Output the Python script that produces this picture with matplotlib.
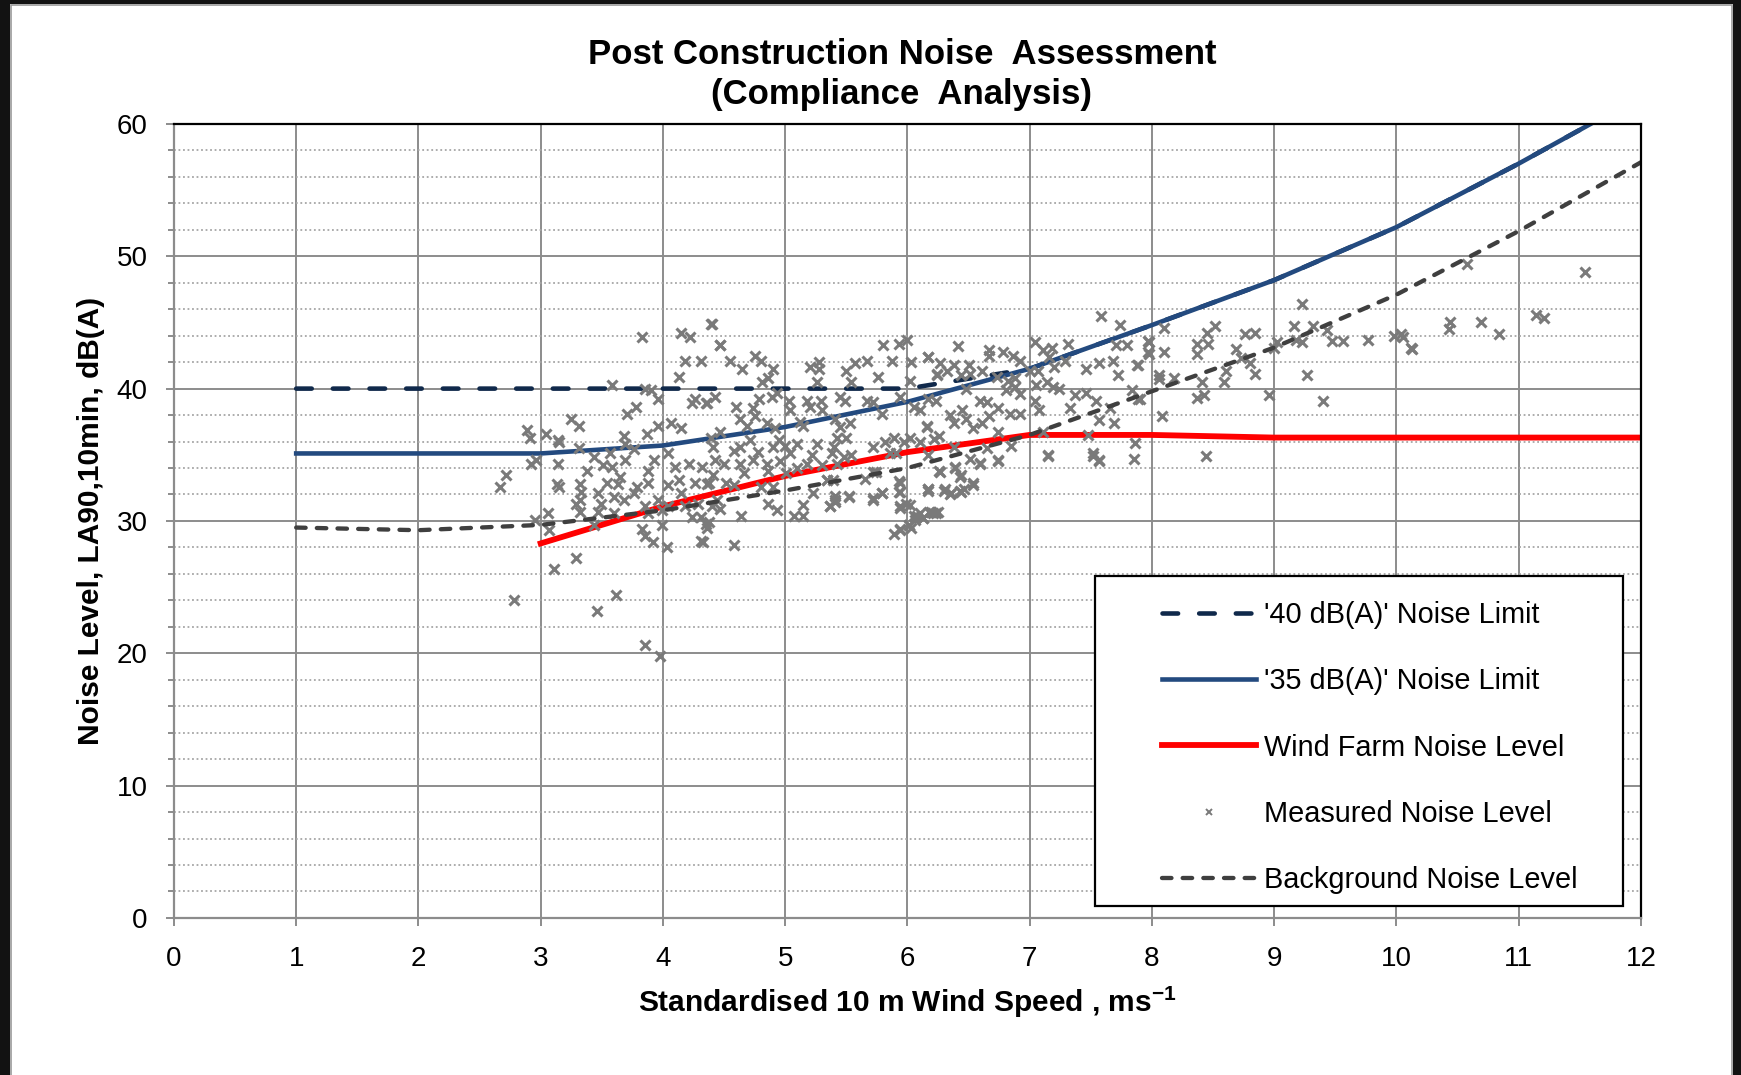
import matplotlib
matplotlib.use('Agg')
import matplotlib.pyplot as plt
from matplotlib import font_manager
from matplotlib.patches import Rectangle
from matplotlib.ticker import MultipleLocator

# 字型
names = {f.name for f in font_manager.fontManager.ttflist}
font = 'Liberation Sans' if 'Liberation Sans' in names else 'DejaVu Sans'
plt.rcParams['font.family'] = [font, 'DejaVu Sans']
plt.rcParams['mathtext.fontset'] = 'custom'
plt.rcParams['mathtext.rm'] = font
plt.rcParams['mathtext.bf'] = font + ':bold'

# 曲線資料 (m/s, dB(A))
speed = [1, 2, 3, 4, 5, 6, 7, 8, 9, 10, 11, 12]
limit_40 = [40.0, 40.0, 40.0, 40.0, 40.0, 40.0, 41.5, 44.8, 48.2, 52.2, 57.0, 62.1]
limit_35 = [35.1, 35.1, 35.1, 35.7, 37.1, 39.0, 41.5, 44.8, 48.2, 52.2, 57.0, 62.1]
background = [29.5, 29.3, 29.7, 30.8, 32.3, 34.0, 36.5, 39.8, 43.1, 47.1, 51.9, 57.1]

farm_speed = [3, 4, 5, 6, 7, 8, 9, 10, 11, 12]
farm_level = [28.3, 31.1, 33.4, 35.2, 36.5, 36.5, 36.3, 36.3, 36.3, 36.3]

# 量測點
meas_speed = [
    4.40, 3.83, 4.15, 4.22, 4.18, 4.31, 4.47, 4.13, 3.58, 3.85, 3.90, 3.96, 4.26, 4.24, 4.36, 3.78,
    3.71, 3.25, 3.31, 2.89, 2.91, 3.04, 3.87, 3.96, 4.07, 4.15, 3.68, 3.14, 3.15, 3.31, 3.69, 3.76,
    3.57, 3.44, 3.51, 3.58, 2.92, 2.96, 3.14, 3.38, 3.69, 3.88, 3.93, 4.04, 4.10, 4.21, 4.32, 4.43,
    2.72, 2.67, 3.13, 3.15, 3.32, 3.33, 3.54, 3.63, 3.65, 3.79, 3.88, 4.04, 4.13, 4.26, 4.38, 3.29,
    3.32, 3.47, 3.49, 3.60, 3.68, 3.76, 3.85, 3.96, 4.04, 4.15, 4.18, 4.29, 4.40, 3.32, 3.47, 3.60,
    3.88, 3.99, 4.24, 4.38, 3.06, 2.95, 3.07, 3.44, 3.83, 3.85, 3.99, 4.36, 3.92, 4.03, 4.33, 3.29,
    3.11, 3.62, 2.78, 3.46, 3.85, 3.98,
    4.39, 4.47, 4.55, 4.65, 4.75, 4.80, 4.86, 4.90, 4.81, 5.20, 5.28, 5.28, 5.26, 5.50, 5.57, 5.54,
    5.67, 5.76, 5.80, 5.87, 5.93, 6.00, 6.03, 6.17, 6.24, 6.02, 4.35, 4.43, 4.60, 4.74, 4.79, 4.89,
    4.93, 5.03, 5.04, 5.18, 5.20, 5.29, 5.30, 5.45, 5.49, 5.67, 5.72, 5.79, 5.94, 6.05, 6.16, 4.63,
    4.69, 4.75, 4.85, 4.92, 5.12, 5.15, 5.41, 5.45, 5.53, 5.42, 5.50, 5.82, 5.89, 5.97, 6.02, 5.72,
    4.39, 4.47, 4.41, 4.58, 4.63, 4.71, 4.78, 4.90, 4.95, 5.00, 5.04, 5.10, 5.26, 5.22, 5.40, 5.38,
    5.54, 5.48, 4.50, 4.63, 4.74, 4.85, 4.96, 5.18, 5.30, 5.42, 4.41, 4.52, 4.66, 4.86, 5.01, 5.10,
    4.36, 4.58, 4.80, 4.90, 5.34, 5.74, 5.94, 5.94, 5.23, 5.52, 5.72, 5.79, 6.17, 4.44, 4.47, 4.86,
    4.93, 4.64, 5.07, 5.15, 5.15, 5.37, 5.41, 5.94, 5.99, 6.05, 6.10, 6.19, 6.25, 4.31, 4.35, 4.31,
    4.58, 5.89, 5.94, 6.01, 6.06,
    7.58, 7.74, 6.41, 6.17, 6.27, 6.38, 6.50, 6.67, 6.67, 6.78, 6.86, 6.92, 7.04, 7.11, 7.18, 7.31,
    7.16, 7.29, 7.20, 7.46, 7.57, 7.68, 7.71, 7.80, 7.98, 7.98, 7.88, 7.72, 6.24, 6.32, 6.44, 6.51,
    6.61, 6.73, 6.82, 6.88, 7.00, 7.07, 6.81, 6.88, 6.92, 7.05, 7.14, 7.19, 7.24, 7.37, 7.46, 7.54,
    7.84, 7.90, 6.10, 6.17, 6.23, 6.48, 6.45, 6.59, 6.65, 6.74, 6.84, 6.92, 7.04, 7.08, 7.33, 6.35,
    6.38, 6.48, 6.61, 6.67, 6.54, 6.16, 6.74, 7.11, 7.57, 7.69, 7.66, 7.48, 6.22, 6.26, 6.10, 6.38,
    6.65, 6.85, 7.86, 7.15, 7.52, 7.57, 7.85, 6.17, 6.51, 6.59, 6.74, 6.27, 6.39, 6.43, 6.17, 6.30,
    6.35, 6.44, 6.54, 6.13, 6.21,
    9.23, 8.10, 8.52, 8.45, 8.37, 8.46, 8.37, 7.97, 7.97, 8.10, 8.69, 8.76, 8.84, 9.16, 9.32, 9.18,
    9.23, 9.43, 9.47, 9.56, 9.02, 9.00, 9.77, 9.98, 10.05, 10.13, 7.89, 8.73, 8.80, 8.84, 8.61, 8.59,
    8.41, 8.18, 8.06, 8.06, 9.27, 8.37, 8.43, 8.96, 9.40, 7.89, 8.08, 8.44,
    10.58, 11.54, 11.14, 11.21, 10.44, 10.43, 10.69, 10.84, 10.04, 10.12,
    5.94, 6.01, 6.03, 6.08, 6.13, 6.18, 6.23, 5.94, 6.02, 5.93, 5.93, 5.37, 5.41, 5.41, 5.52, 5.72,
    5.79, 6.17, 6.31, 6.36, 6.43, 6.46, 6.54, 6.26, 6.39, 6.44, 6.59, 6.74, 7.15, 7.52, 7.57, 5.34,
    5.39, 5.65, 5.72, 5.86, 5.91,
]
meas_level = [
    44.9, 43.9, 44.2, 43.9, 42.1, 42.1, 43.3, 40.9, 40.3, 40.0, 39.9, 39.2, 39.2, 38.9, 38.9, 38.6,
    38.1, 37.7, 37.2, 36.9, 36.3, 36.6, 36.6, 37.2, 37.4, 37.0, 36.4, 36.1, 36.0, 35.5, 35.8, 35.4,
    35.1, 34.8, 34.2, 34.1, 34.3, 34.6, 34.3, 33.8, 34.6, 33.8, 34.6, 35.1, 34.1, 34.3, 34.1, 34.6,
    33.5, 32.6, 32.8, 32.6, 32.8, 32.2, 32.9, 32.8, 33.3, 32.6, 32.9, 32.7, 33.1, 32.9, 32.9, 31.3,
    31.6, 32.1, 31.3, 31.8, 31.6, 32.1, 31.1, 31.6, 31.1, 32.1, 31.1, 31.3, 31.1, 30.7, 30.7, 30.6,
    30.6, 30.8, 30.3, 29.9, 30.6, 30.1, 29.3, 29.7, 29.4, 28.9, 29.7, 29.5, 28.4, 28.0, 28.4, 27.2,
    26.4, 24.4, 24.0, 23.2, 20.6, 19.8,
    44.9, 43.3, 42.1, 41.5, 42.5, 42.1, 40.8, 41.5, 40.5, 41.6, 42.0, 41.5, 40.5, 41.3, 41.9, 40.5,
    42.1, 40.9, 43.3, 42.1, 43.4, 43.7, 42.0, 42.4, 41.1, 40.6, 38.9, 39.4, 38.6, 38.5, 39.2, 39.4,
    39.7, 39.1, 38.4, 39.1, 38.6, 39.1, 38.4, 39.4, 39.1, 39.1, 39.0, 38.1, 39.4, 38.6, 37.2, 37.7,
    37.2, 37.9, 37.4, 37.0, 37.5, 37.2, 37.7, 37.1, 37.4, 36.3, 36.3, 36.0, 36.3, 36.0, 36.3, 35.6,
    36.3, 36.7, 35.6, 35.3, 35.6, 36.1, 35.2, 35.6, 36.1, 35.7, 35.1, 35.8, 35.8, 35.0, 35.6, 35.1,
    35.0, 34.8, 34.3, 34.3, 34.6, 34.3, 34.5, 34.3, 34.2, 34.3, 33.5, 32.9, 33.6, 33.8, 33.6, 34.0,
    32.8, 32.7, 32.6, 32.6, 33.1, 33.7, 32.9, 32.2, 32.1, 31.8, 31.7, 32.1, 32.4, 31.6, 30.9, 31.3,
    30.8, 30.4, 30.4, 31.2, 30.4, 31.1, 31.6, 31.1, 31.3, 30.4, 30.6, 30.7, 30.7, 30.3, 29.8, 28.5,
    28.2, 29.0, 29.3, 29.7, 30.1,
    45.5, 44.8, 43.2, 42.4, 41.9, 41.8, 41.8, 42.9, 42.5, 42.8, 42.5, 42.1, 43.5, 42.9, 43.1, 43.4,
    42.4, 42.1, 41.6, 41.5, 41.9, 42.1, 43.3, 43.3, 43.5, 42.6, 41.8, 41.0, 41.0, 41.3, 41.0, 41.1,
    41.3, 40.9, 40.6, 40.8, 41.3, 41.3, 39.9, 40.1, 39.6, 40.3, 40.5, 40.1, 40.0, 39.5, 39.7, 39.1,
    39.9, 39.2, 38.4, 39.2, 39.1, 40.0, 38.4, 39.1, 39.0, 38.5, 38.1, 38.1, 39.1, 38.4, 38.5, 38.0,
    37.4, 37.7, 37.4, 37.9, 37.0, 37.1, 36.7, 36.7, 37.6, 37.4, 38.5, 36.5, 36.2, 36.4, 36.0, 35.6,
    35.5, 35.7, 35.9, 34.9, 34.9, 34.5, 34.7, 35.0, 34.7, 34.3, 34.5, 33.7, 34.0, 33.3, 32.3, 32.3,
    32.0, 32.2, 32.7, 30.2, 30.6,
    46.4, 44.6, 44.7, 44.2, 43.4, 43.4, 42.6, 43.6, 42.8, 42.8, 43.0, 44.1, 44.2, 44.7, 44.7, 43.7,
    43.5, 44.4, 43.6, 43.6, 43.5, 43.1, 43.7, 44.0, 43.9, 43.0, 41.8, 42.3, 41.9, 41.1, 41.3, 40.5,
    40.5, 40.8, 41.0, 40.7, 41.0, 39.3, 39.5, 39.5, 39.1, 39.2, 37.9, 34.9,
    49.4, 48.8, 45.6, 45.3, 45.0, 44.5, 45.0, 44.1, 44.1, 43.1,
    29.4, 29.7, 29.5, 30.4, 30.2, 30.7, 30.6, 31.0, 31.2, 32.2, 33.0, 31.1, 31.4, 31.9, 31.9, 31.6,
    32.1, 32.4, 32.4, 32.1, 32.3, 32.4, 32.9, 33.8, 34.1, 33.5, 34.4, 34.6, 35.0, 35.1, 34.6, 33.1,
    33.1, 33.2, 33.7, 35.1, 35.1,
]

fig = plt.figure(figsize=(17.41, 10.75), dpi=100)
ax = fig.add_axes([0.0999, 0.1461, 0.8426, 0.7386])

ax.plot(speed, limit_40, color='#10294b', lw=3.3, linestyle=(0, (3.4, 4.6)),
        dash_capstyle='round', label="'40 dB(A)' Noise Limit", zorder=2.0)
ax.plot(speed, limit_35, color='#234a7f', lw=3.3, label="'35 dB(A)' Noise Limit", zorder=2.1)
ax.plot(farm_speed, farm_level, color='#ff0000', lw=4.2, label='Wind Farm Noise Level', zorder=2.2)
ax.plot(meas_speed, meas_level, linestyle='none', marker='x', ms=7.5, mew=2.2,
        color='#7a7a7a', label='Measured Noise Level', zorder=2.3)
ax.plot(speed, background, color='#3f3f3f', lw=3.1, linestyle=(0, (2.2, 2.6)),
        dash_capstyle='round', label='Background Noise Level', zorder=2.4)

ax.set_xlim(0, 12)
ax.set_ylim(0, 60)
ax.xaxis.set_major_locator(MultipleLocator(1))
ax.yaxis.set_major_locator(MultipleLocator(10))
ax.yaxis.set_minor_locator(MultipleLocator(2))

ax.set_axisbelow(True)
ax.grid(which='major', color='#8c8c8c', lw=1.4)
ax.yaxis.grid(True, which='minor', color='#a6a6a6', lw=1.3, linestyle=(0, (1, 1.5)))

ax.tick_params(which='major', direction='out', length=6, width=1.4, color='#8c8c8c', labelsize=20)
ax.tick_params(axis='y', which='major', pad=13)
ax.tick_params(axis='x', which='major', pad=14)
ax.tick_params(which='minor', direction='out', length=4.5, width=1.4, color='#8c8c8c')

for side in ['top', 'right']:
    ax.spines[side].set_color('black')
    ax.spines[side].set_linewidth(1.6)
for side in ['left', 'bottom']:
    ax.spines[side].set_color('#8c8c8c')
    ax.spines[side].set_linewidth(1.6)

# 圖例框
ax.add_patch(Rectangle((0.628, 0.015), 0.360, 0.416, transform=ax.transAxes,
                       facecolor='white', edgecolor='black', lw=1.6, zorder=6))
leg = ax.legend(loc='upper left', bbox_to_anchor=(0.6735, 0.3995), frameon=False,
                fontsize=20.8, handlelength=3.25, handletextpad=0.3, labelspacing=1.33,
                borderpad=0, borderaxespad=0, numpoints=1)
leg.set_zorder(7)
leg.legend_handles[3].set_markersize(5)
leg.legend_handles[3].set_markeredgewidth(1.4)

# 標題與軸標籤
fig.text(0.518, 0.949, 'Post Construction Noise  Assessment', ha='center', va='center',
         fontsize=25, fontweight='bold')
fig.text(0.518, 0.9118, '(Compliance  Analysis)', ha='center', va='center',
         fontsize=25, fontweight='bold')
fig.text(0.0523, 0.5153, 'Noise Level, LA90,10min, dB(A)', rotation=90, ha='center', va='center',
         fontsize=21.5, fontweight='bold')
fig.text(0.521, 0.0679, r'Standardised 10 m Wind Speed , ms$^{\mathbf{-1}}$', ha='center', va='center',
         fontsize=21.5, fontweight='bold')

# 外框
fig.add_artist(Rectangle((0, 0), 10 / 1741, 1, transform=fig.transFigure, color='#121212', lw=0))
fig.add_artist(Rectangle((0, 1 - 4 / 1075), 1, 4 / 1075, transform=fig.transFigure, color='#121212', lw=0))
fig.add_artist(Rectangle((1 - 8 / 1741, 0), 8 / 1741, 1, transform=fig.transFigure, color='#121212', lw=0))
fig.add_artist(Rectangle((11 / 1741, -0.01), 1 - 20.5 / 1741, 1 + 0.01 - 5 / 1075, transform=fig.transFigure,
                         facecolor='none', edgecolor='#9a9a9a', lw=1.2))

fig.savefig('out.png', dpi=100)
